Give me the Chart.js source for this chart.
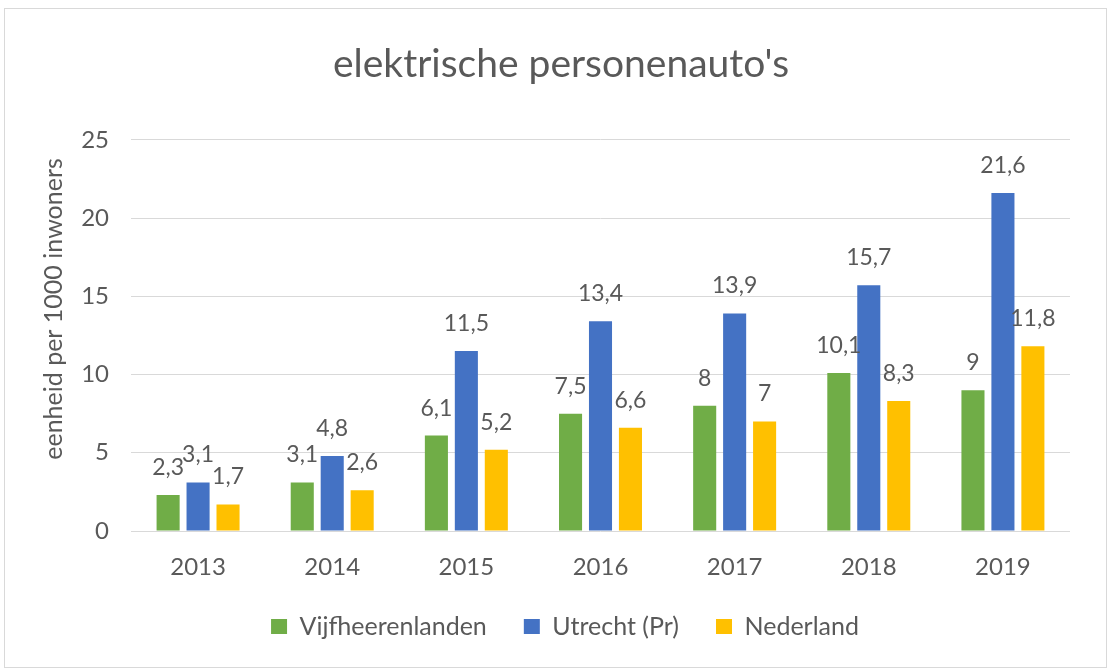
<!DOCTYPE html>
<html><head><meta charset="utf-8">
<script src="https://cdn.jsdelivr.net/npm/chart.js@4"></script>
<style>
html,body{margin:0;padding:0;background:#fff;}
#wrap{position:absolute;left:0;top:0;width:1112px;height:669px;}
#frame{position:absolute;left:4px;top:8px;width:1101px;height:658px;border:1px solid #D9D9D9;pointer-events:none;}
</style></head>
<body>
<div id="wrap"><canvas id="c" width="1112" height="669"></canvas></div>
<div id="frame"></div>
<script>
const years = ['2013','2014','2015','2016','2017','2018','2019'];
const vijfheerenlanden = [2.3, 3.1, 6.1, 7.5, 8, 10.1, 9];
const utrecht = [3.1, 4.8, 11.5, 13.4, 13.9, 15.7, 21.6];
const nederland = [1.7, 2.6, 5.2, 6.6, 7, 8.3, 11.8];
const seriesNames = ['Vijfheerenlanden', 'Utrecht (Pr)', 'Nederland'];
const colors = ['#70AD47', '#4472C4', '#FFC000'];
const yTitle = 'eenheid per 1000 inwoners';
const chartTitle = "elektrische personenauto's";
const FONT = 'Lato, "Open Sans", sans-serif';
const TXT = '#595959';

const labelPlugin = {
  id: 'vals',
  afterLayout(chart) {
    // shift title and legend blocks to the right (centered like the reference)
    if (chart.titleBlock) { chart.titleBlock.left += 15; chart.titleBlock.right += 15; }
    if (chart.legend) { chart.legend.left += 19; chart.legend.right += 19; }
  },
  afterDatasetsDraw(chart) {
    const ctx = chart.ctx;
    ctx.save();
    ctx.font = '23px ' + FONT;
    ctx.fillStyle = TXT;
    ctx.textAlign = 'center';
    ctx.textBaseline = 'alphabetic';
    chart.data.datasets.forEach((ds, i) => {
      const meta = chart.getDatasetMeta(i);
      meta.data.forEach((el, j) => {
        const v = ds.data[j];
        ctx.fillText(String(v).replace('.', ','), el.x, el.y - 20);
      });
    });
    // y axis title
    ctx.translate(54, 309);
    ctx.rotate(-Math.PI / 2);
    ctx.font = '25px ' + FONT;
    ctx.textBaseline = 'middle';
    ctx.fillText(yTitle, 0, 0);
    ctx.restore();
  }
};

new Chart(document.getElementById('c'), {
  type: 'bar',
  data: {
    labels: years,
    datasets: [
      {label: seriesNames[0], data: vijfheerenlanden, backgroundColor: colors[0]},
      {label: seriesNames[1], data: utrecht, backgroundColor: colors[1]},
      {label: seriesNames[2], data: nederland, backgroundColor: colors[2]}
    ]
  },
  options: {
    responsive: false,
    animation: false,
    layout: {padding: {left: 22, right: 42, top: 20, bottom: 20}},
    datasets: {bar: {categoryPercentage: 0.67, barPercentage: 0.77}},
    scales: {
      x: {
        afterFit(s) { s.height = 46; },
        grid: {display: false},
        border: {display: false},
        ticks: {color: TXT, font: {family: FONT, size: 24}, padding: 14}
      },
      y: {
        min: 0, max: 25,
        afterFit(s) { s.width = 109; },
        grid: {color: '#D9D9D9', drawTicks: false},
        border: {display: false},
        ticks: {stepSize: 5, color: TXT, font: {family: FONT, size: 24}, padding: 22}
      }
    },
    plugins: {
      title: {display: true, text: chartTitle, color: TXT, font: {family: FONT, size: 39, weight: 'normal'}, padding: {top: 21, bottom: 52}},
      legend: {
        position: 'bottom',
        labels: {color: TXT, font: {family: FONT, size: 25}, boxWidth: 16, boxHeight: 15, padding: 37}
      },
      tooltip: {enabled: false}
    }
  },
  plugins: [labelPlugin]
});
</script>
</body></html>
